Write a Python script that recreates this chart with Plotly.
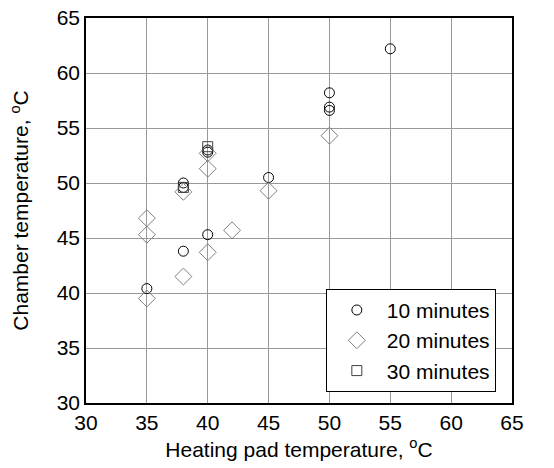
import plotly.graph_objects as go

x10 = [35, 38, 38, 38, 40, 40, 40, 45, 50, 50, 50, 55]
y10 = [40.4, 43.8, 50.0, 49.6, 53.0, 52.8, 45.3, 50.5, 58.2, 56.9, 56.6, 62.2]
x20 = [35, 35, 35, 38, 38, 40, 40, 40, 42, 45, 50]
y20 = [46.8, 45.3, 39.5, 41.5, 49.2, 52.7, 51.3, 43.7, 45.7, 49.3, 54.3]
x30 = [38, 40]
y30 = [49.6, 53.3]
names = ["10 minutes", "20 minutes", "30 minutes"]
xticks = [30, 35, 40, 45, 50, 55, 60, 65]
yticks = [30, 35, 40, 45, 50, 55, 60, 65]

FS = 21
fig = go.Figure()
fig.add_trace(go.Scatter(x=x10, y=y10, mode="markers", name=names[0],
                         marker=dict(symbol="circle-open", size=10, color="black", line=dict(width=1))))
fig.add_trace(go.Scatter(x=x20, y=y20, mode="markers", name=names[1],
                         marker=dict(symbol="diamond-open", size=13, color="#7f7f7f", line=dict(width=1))))
fig.add_trace(go.Scatter(x=x30, y=y30, mode="markers", name=names[2],
                         marker=dict(symbol="square-open", size=10, color="#404040", line=dict(width=1))))

axis_common = dict(showgrid=True, gridcolor="#999999", gridwidth=1.3, zeroline=False,
                   showline=True, linecolor="black", linewidth=1.5, mirror=True,
                   ticks="", tickfont=dict(size=FS, color="black"), automargin=False)

fig.update_layout(
    width=554, height=468,
    margin=dict(l=86, r=42, t=18, b=65),
    paper_bgcolor="white", plot_bgcolor="white",
    font=dict(family="Liberation Sans, Arial, sans-serif", color="black", size=FS),
    xaxis=dict(range=[30, 65], tickvals=xticks,
               title=dict(text="Heating pad temperature, <sup>o</sup>C", standoff=9,
                          font=dict(size=FS, color="black")), **axis_common),
    yaxis=dict(range=[30, 65], tickvals=yticks,
               title=dict(text="Chamber temperature, <sup>o</sup>C", standoff=22,
                          font=dict(size=FS, color="black")), **axis_common),
    legend=dict(x=0.563, y=0.029, xanchor="left", yanchor="bottom",
                bordercolor="black", borderwidth=1, bgcolor="white",
                font=dict(size=FS, color="black"), itemwidth=50, tracegroupgap=0),
    showlegend=True,
)

fig.write_html("out.html")
